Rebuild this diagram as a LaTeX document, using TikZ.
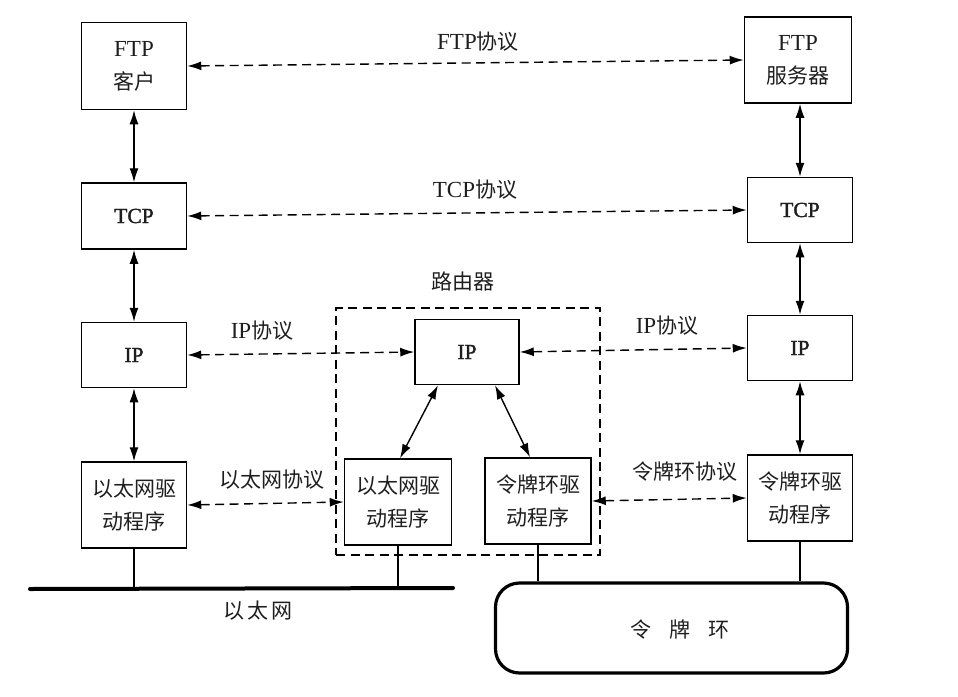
\documentclass[tikz,border=0pt]{standalone}
\usepackage{fontspec}
\setmainfont{Liberation Serif}
\newfontfamily\cjk{Noto Sans CJK SC}
\newfontfamily\heavyserif[FakeBold=1.6]{Liberation Serif}
\newcommand\zhtxt[1]{{\cjk #1}}
\newcommand\entxt[1]{{\fontsize{23}{33}\selectfont #1}}
\newcommand\enbf[1]{{\heavyserif\fontsize{21.5}{33}\selectfont #1}}
\usetikzlibrary{arrows.meta,calc}
\definecolor{ink}{HTML}{1E1E1E}
\begin{document}
\begin{tikzpicture}[x=1pt,y=-1pt,
  >={Latex[length=14pt,width=9pt]},
  txt/.style={text=ink, font=\fontsize{21}{33}\selectfont, align=center, inner sep=0pt},
  box/.style={txt, draw=black, line width=1.5pt, minimum width=105pt},
  dual/.style={<->, line width=1.4pt},
  proto/.style={dual, dash pattern=on 9pt off 5.5pt},
  drop/.style={line width=1.2pt}]
\useasboundingbox (0,0) rectangle (958,696);

% host on the Ethernet side
\node[box, minimum height=87pt] (ftpc) at (134,66)  {\entxt{FTP}\\\zhtxt{客户}};
\node[box, minimum height=66pt] (tcpl) at (134,216) {\enbf{TCP}};
\node[box, minimum height=65pt] (ipl)  at (134,355) {\enbf{IP}};
\node[box, minimum height=86pt] (ethl) at (134,505) {\zhtxt{以太网驱}\\\zhtxt{动程序}};

% host on the token ring side
\node[box, minimum width=107pt, minimum height=86pt] (ftps) at (798,60)  {\entxt{FTP}\\\zhtxt{服务器}};
\node[box, minimum height=65pt] (tcpr) at (800,210) {\enbf{TCP}};
\node[box, minimum height=65pt] (ipr)  at (800,348) {\enbf{IP}};
\node[box, minimum height=86pt] (tokr) at (800,498) {\zhtxt{令牌环驱}\\\zhtxt{动程序}};

% router
\node[draw=black, line width=1.2pt, dash pattern=on 9pt off 5.5pt,
      minimum width=264pt, minimum height=247pt, inner sep=0pt] (router) at (468,431.5) {};
\node[txt] (routerlbl) at (463,282) {\zhtxt{路由器}};
\node[box, minimum width=104pt, minimum height=65pt] (ipm)  at (467,352) {\enbf{IP}};
\node[box, minimum width=107pt, minimum height=86pt] (ethm) at (398,502) {\zhtxt{以太网驱}\\\zhtxt{动程序}};
\node[box, minimum width=106pt, minimum height=86pt] (tokm) at (538,501) {\zhtxt{令牌环驱}\\\zhtxt{动程序}};

% layer-to-layer links
\draw[dual] (ftpc.south) -- (tcpl.north);
\draw[dual] (tcpl.south) -- (ipl.north);
\draw[dual] (ipl.south)  -- (ethl.north);
\draw[dual] (ftps.south -| tcpr.north) -- (tcpr.north);
\draw[dual] (tcpr.south) -- (ipr.north);
\draw[dual] (ipr.south)  -- (tokr.north);
\draw[dual] ($(ipm.south)+(-29,0)$) -- ($(ethm.north)+(2,0)$);
\draw[dual] ($(ipm.south)+(28,0)$)  -- ($(tokm.north)+(-8,0)$);

% peer protocols
\draw[proto] (ftpc.east) -- (ftps.west);
\node[txt] (ftplbl) at (478,42) {\entxt{FTP}\zhtxt{协议}};
\draw[proto] (tcpl.east) -- (tcpr.west);
\node[txt] (tcplbl) at (475,190) {\entxt{TCP}\zhtxt{协议}};
\draw[proto] (ipl.east) -- (ipm.west);
\node[txt] (iplbl1) at (262,331) {\entxt{IP}\zhtxt{协议}};
\draw[proto] (ipm.east) -- (ipr.west);
\node[txt] (iplbl2) at (667,326) {\entxt{IP}\zhtxt{协议}};
\draw[proto] (ethl.east) -- (ethm.west);
\node[txt] (ethlbl) at (272,480) {\zhtxt{以太网协议}};
\draw[proto] (tokm.east) -- (tokr.west);
\node[txt] (toklbl) at (685,472) {\zhtxt{令牌环协议}};

% Ethernet bus
\coordinate (busw) at (30,589);
\coordinate (buse) at (453,588);
\draw[line width=4pt, line cap=round] (busw) -- (buse);
\node[txt] (buslbl) at (258,611) {\zhtxt{以\hspace{3pt}太\hspace{3pt}网}};
\draw[drop] (ethl.south) -- (ethl.south |- busw);
\draw[drop] (ethm.south) -- (ethm.south |- buse);

% token ring
\node[draw=black, line width=3.2pt, rounded corners=24pt,
      minimum width=352pt, minimum height=90pt, inner sep=0pt] (ring) at (671.5,628) {};
\node[txt] (ringlbl) at (680,630) {\zhtxt{令\hspace{18pt}牌\hspace{18pt}环}};
\draw[drop] (tokm.south) -- (tokm.south |- ring.north);
\draw[drop] (tokr.south) -- (tokr.south |- ring.north);
\end{tikzpicture}
\end{document}
